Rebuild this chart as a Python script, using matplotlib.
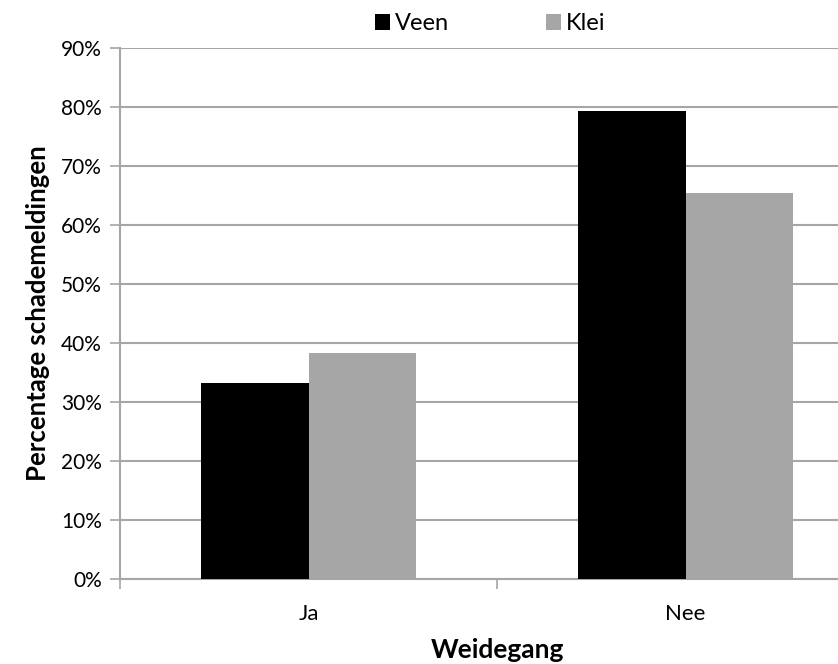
import matplotlib
matplotlib.use("Agg")
import matplotlib.pyplot as plt
import numpy as np
from matplotlib.ticker import FuncFormatter, FixedLocator

categories = ["Ja", "Nee"]
series_names = ["Veen", "Klei"]
veen = [33.2, 79.4]
klei = [38.3, 65.5]
y_ticks = [0, 10, 20, 30, 40, 50, 60, 70, 80, 90]

plt.rcParams['font.family'] = ['Lato', 'DejaVu Sans']

fig = plt.figure(figsize=(8.38, 6.64), dpi=100)
ax = fig.add_axes([120/838, 85/664, (874-120)/838, (579-48)/664])

x = np.arange(len(categories))
w = 1/3.5
grid_c = '#a6a6a6'
ax.bar(x - w/2, veen, width=w, color='black', label=series_names[0], zorder=3)
ax.bar(x + w/2, klei, width=w, color='#a6a6a6', label=series_names[1], zorder=3)

ax.set_xlim(-0.5, 1.5)
ax.set_ylim(0, 90)
ax.set_yticks(y_ticks)
ax.yaxis.set_major_formatter(FuncFormatter(lambda v, p: f"{int(v)}%"))
ax.yaxis.grid(True, color=grid_c, linewidth=1.5, zorder=0)
ax.set_axisbelow(True)

ax.xaxis.set_major_locator(FixedLocator([-0.5, 0.5, 1.5]))
ax.xaxis.set_minor_locator(FixedLocator(list(x)))
ax.set_xticklabels([])
ax.set_xticklabels(categories, minor=True, fontsize=16)
ax.tick_params(axis='x', which='major', length=7, width=1.2, color=grid_c)
ax.tick_params(axis='x', which='minor', length=0, pad=18)
ax.tick_params(axis='y', length=7, width=1.2, color=grid_c, labelsize=15, pad=6)

for s in ['top', 'right']:
    ax.spines[s].set_visible(False)
for s in ['left', 'bottom']:
    ax.spines[s].set_color(grid_c)
    ax.spines[s].set_linewidth(1.5)

ax.set_ylabel("Percentage schademeldingen", fontsize=18.5, fontweight='bold', labelpad=8)
ax.set_xlabel("Weidegang", fontsize=19, fontweight='bold', labelpad=10)

fig.legend(loc='upper center', bbox_to_anchor=(0.585, 1.012), ncol=2, frameon=False,
           fontsize=17, handlelength=0.65, handleheight=0.65, handletextpad=0.2,
           columnspacing=4.1)

fig.savefig("out.png", dpi=100)
